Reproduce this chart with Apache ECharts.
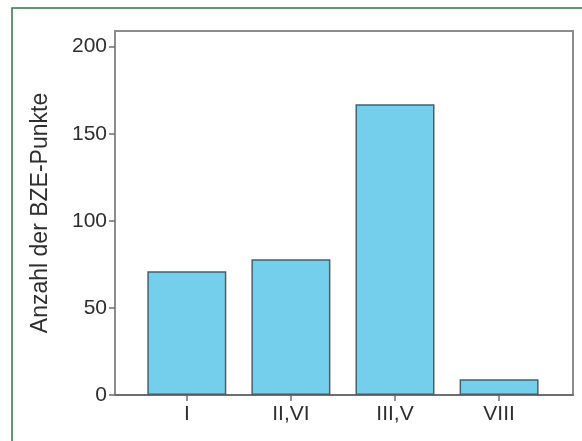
<!DOCTYPE html>
<html>
<head>
<meta charset="utf-8">
<script src="https://cdn.jsdelivr.net/npm/echarts@6/dist/echarts.min.js"></script>
<style>
  html, body { margin: 0; padding: 0; background: #fff; }
  #chart { width: 582px; height: 441px; }
</style>
</head>
<body>
<div id="chart"></div>
<script>
// categories and values
const categories = ["I", "II,VI", "III,V", "VIII"];
const counts = [71, 78, 167, 9];
const yTicks = [0, 50, 100, 150, 200];
const yTitle = "Anzahl der BZE-Punkte";

const positions = categories.map((c, i) => i);
const myChart = echarts.init(document.getElementById("chart"));
const font = "Liberation Sans, Arial, sans-serif";

const option = {
  animation: false,
  backgroundColor: "#fff",
  graphic: [
    {
      // green frame round the figure
      type: "rect",
      shape: { x: 12, y: 8, width: 600, height: 460 },
      style: { fill: "none", stroke: "#2f7a3e", lineWidth: 1.5 },
      silent: true,
    },
  ],
  grid: {
    left: 115,
    right: 9,
    top: 31,
    bottom: 46,
    show: true,
    borderColor: "#8c8c8c",
    borderWidth: 2,
    backgroundColor: "transparent",
  },
  xAxis: {
    type: "value",
    min: -0.69,
    max: 3.71,
    splitLine: { show: false },
    axisLine: { show: true, onZero: false, lineStyle: { color: "#6e6e6e", width: 2 } },
    axisTick: {
      show: true,
      customValues: positions,
      length: 6,
      lineStyle: { color: "#6e6e6e", width: 1.5 },
    },
    axisLabel: {
      customValues: positions,
      formatter: (v) => categories[Math.round(v)] || "",
      color: "#2e2e2e",
      fontFamily: font,
      fontSize: 21,
      margin: 9,
    },
  },
  yAxis: {
    type: "value",
    min: 0,
    max: 209,
    name: yTitle,
    nameLocation: "middle",
    nameGap: 63,
    nameTextStyle: { color: "#2e2e2e", fontFamily: font, fontSize: 23 },
    splitLine: { show: false },
    axisLine: { show: true, onZero: false, lineStyle: { color: "#8c8c8c", width: 2 } },
    axisTick: {
      show: true,
      customValues: yTicks,
      length: 6,
      lineStyle: { color: "#6e6e6e", width: 1.5 },
    },
    axisLabel: {
      customValues: yTicks,
      color: "#2e2e2e",
      fontFamily: font,
      fontSize: 21,
      margin: 8,
    },
  },
  series: [
    {
      type: "bar",
      barWidth: 79,
      data: counts.map((v, i) => [positions[i], v]),
      itemStyle: {
        color: "#74cfec",
        borderColor: "#4d5d66",
        borderWidth: 1.5,
      },
    },
  ],
};

myChart.setOption(option);
</script>
</body>
</html>
